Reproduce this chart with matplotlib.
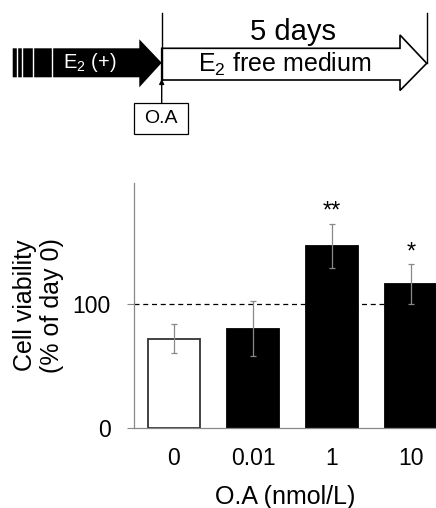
import matplotlib.pyplot as plt
from matplotlib.patches import Polygon, Rectangle

plt.rcParams['font.family'] = ['Liberation Sans', 'DejaVu Sans']
plt.rcParams['mathtext.fontset'] = 'custom'
plt.rcParams['mathtext.rm'] = 'Liberation Sans'
plt.rcParams['mathtext.it'] = 'Liberation Sans'

# data
doses = ['0', '0.01', '1', '10']
viability = [72, 80, 147, 116]
errors = [12, 22, 18, 16]
stars = ['', '', '**', '*']
fill = ['white', 'black', 'black', 'black']

fig = plt.figure(figsize=(4.36, 5.08), dpi=100)

# bar chart
ax = fig.add_axes([134 / 436, 80.3 / 508, 302 / 436, 245 / 508])
xs = list(range(len(doses)))
ax.bar(xs, viability, width=0.667, color=fill, edgecolor=['#333333', 'black', 'black', 'black'],
       linewidth=1.3, zorder=2)
ax.errorbar(xs, viability, yerr=errors, fmt='none', ecolor='#888888', elinewidth=0.9,
            capsize=2.5, capthick=0.9, zorder=3)
for x, v, e, s in zip(xs, viability, errors, stars):
    if s:
        ax.text(x, v + e + 1, s, ha='center', va='bottom', fontsize=17)
ax.axhline(100, color='black', linestyle=(0, (4, 3)), linewidth=0.9, zorder=1)

ax.set_xlim(-0.506, 3.316)
ax.set_ylim(0, 198)
ax.set_yticks([0, 100])
ax.set_xticks(xs)
ax.set_xticklabels(doses)
ax.tick_params(axis='y', length=5, color='#888888', labelsize=16.5, pad=12)
ax.tick_params(axis='x', length=0, labelsize=16.5, pad=14)
for side in ['top', 'right']:
    ax.spines[side].set_visible(False)
ax.spines['left'].set_color('#888888')
ax.spines['bottom'].set_color('#888888')
ax.spines['left'].set_linewidth(0.9)
ax.spines['bottom'].set_linewidth(0.9)
ax.set_ylabel('Cell viability\n(% of day 0)', fontsize=18, linespacing=1.15, labelpad=6)
ax.set_xlabel('O.A (nmol/L)', fontsize=18, labelpad=11)

# treatment timeline on top (pixel coordinates)
top = fig.add_axes([0, 0, 1, 1], zorder=5)
top.set_xlim(0, 436)
top.set_ylim(508, 0)
top.axis('off')
top.patch.set_alpha(0)

black_arrow = [(12.7, 48.3), (139.3, 48.3), (139.3, 39.3), (161.7, 62.8),
               (139.3, 87.3), (139.3, 77.3), (12.7, 77.3)]
top.add_patch(Polygon(black_arrow, closed=True, facecolor='black', edgecolor='none'))
for sx in [16.7, 22, 33.3, 52.3]:
    top.plot([sx, sx], [48.3, 77.3], color='white', linewidth=1.0)
top.text(90, 63, 'E$_2$ (+)', color='white', fontsize=14.5, ha='center', va='center')

white_arrow = [(161.7, 48.3), (400, 48.3), (400, 35), (426.7, 63.3),
               (400, 90.5), (400, 80), (161.7, 80)]
top.add_patch(Polygon(white_arrow, closed=True, facecolor='white', edgecolor='black',
                      linewidth=1.2))
top.plot([161.7, 161.7], [13, 80], color='black', linewidth=1.0)
top.plot([426.7, 426.7], [13, 63.3], color='black', linewidth=1.0)
top.text(293, 32, '5 days', fontsize=21, ha='center', va='center')
top.text(285, 64, 'E$_2$ free medium', fontsize=18, ha='center', va='center')

top.annotate('', xy=(161.7, 79), xytext=(161.7, 102.7),
             arrowprops=dict(arrowstyle='-|>', color='black', lw=1.0, mutation_scale=7,
                             shrinkA=0, shrinkB=0))
top.add_patch(Rectangle((134.3, 102.7), 53.4, 31.3, facecolor='white', edgecolor='black',
                        linewidth=0.9))
top.text(161, 118.5, 'O.A', fontsize=14, ha='center', va='center')

fig.savefig('out.png', dpi=100)
